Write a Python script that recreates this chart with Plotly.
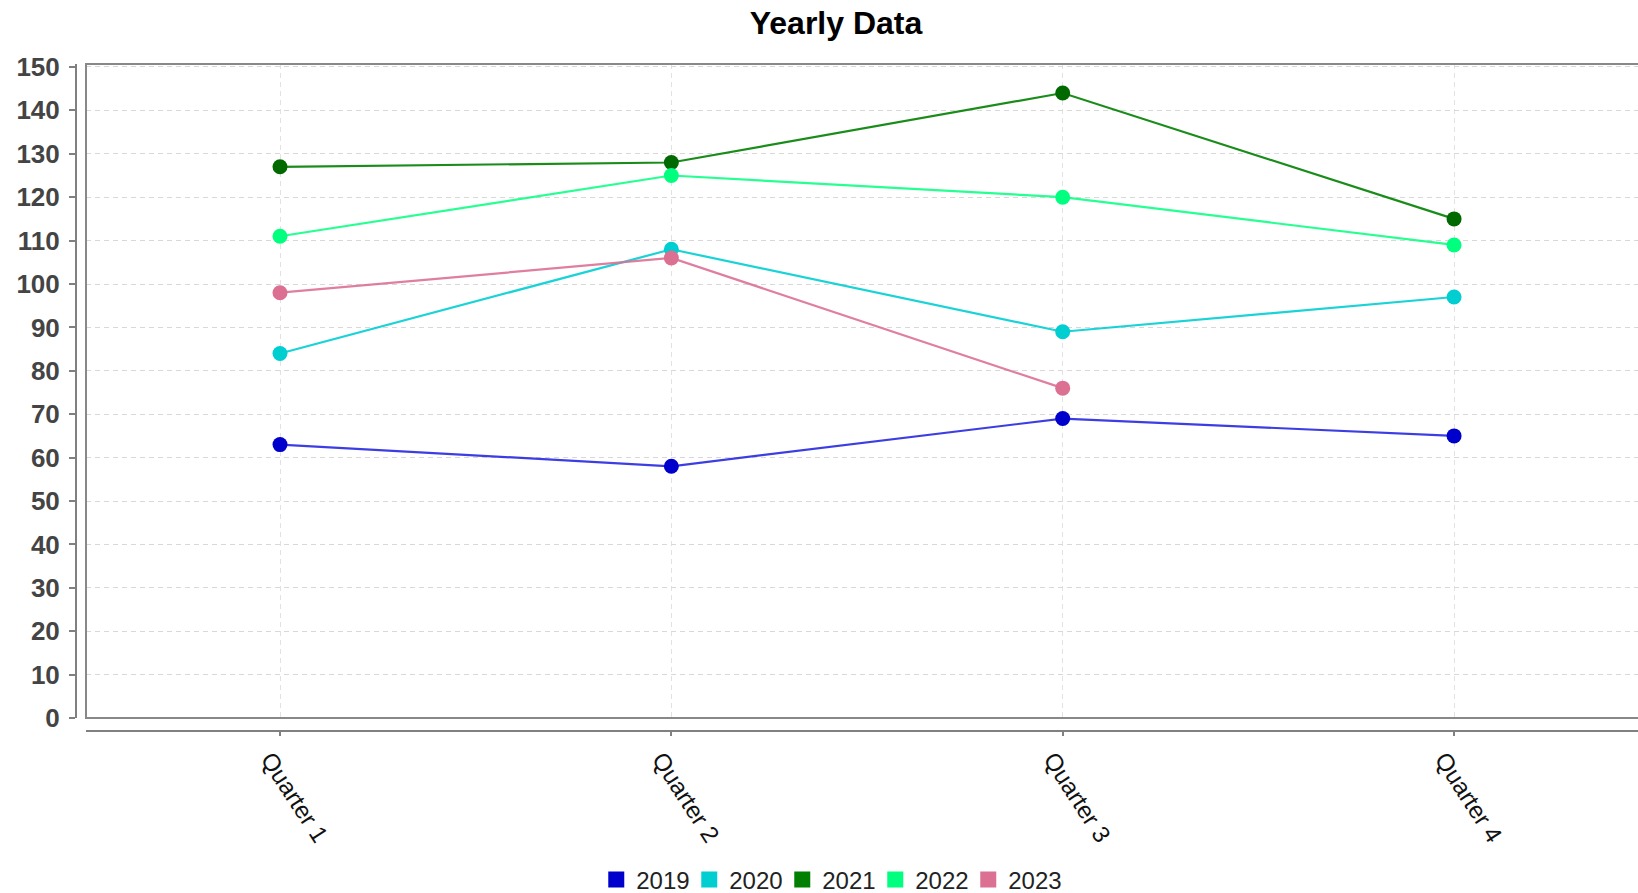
import plotly.graph_objects as go

# ---- data ----
categories = ["Quarter 1", "Quarter 2", "Quarter 3", "Quarter 4"]
series_names = ["2019", "2020", "2021", "2022", "2023"]
values_2019 = [63, 58, 69, 65]
values_2020 = [84, 108, 89, 97]
values_2021 = [127, 128, 144, 115]
values_2022 = [111, 125, 120, 109]
values_2023 = [98, 106, 76, None]
y_ticks = list(range(0, 151, 10))

series_values = [values_2019, values_2020, values_2021, values_2022, values_2023]
marker_colors = ["#0000CC", "#00CED1", "#006A00", "#00FF7F", "#DB7093"]
line_colors = ["rgba(40,40,225,0.9)", "rgba(0,206,209,0.9)", "rgba(0,128,0,0.9)",
               "rgba(0,255,127,0.85)", "rgba(219,112,147,0.9)"]
legend_colors = ["#0000CC", "#00CED1", "#007F00", "#00FF7F", "#DB7093"]

W, H = 1638, 893
ml, mr, mt, mb = 60, 0, 64, 150
pw = W - ml - mr
ph = H - mt - mb
plot_left_px = 86
plot_bottom_px = 718
yaxis_px = 76
xaxis_px = 731
xdom0 = (plot_left_px - ml) / pw
ydom0 = ((H - mb) - plot_bottom_px) / ph
ypos = (yaxis_px - ml) / pw
xpos = ((H - mb) - xaxis_px) / ph
legend_y = ((H - mb) - 880) / ph

x_idx = list(range(len(categories)))

fig = go.Figure()
for name, vals, mc, lc in zip(series_names, series_values, marker_colors, line_colors):
    fig.add_trace(go.Scatter(
        x=x_idx, y=vals, name=name, mode="lines+markers",
        line=dict(color=lc, width=2.2),
        marker=dict(color=mc, size=15),
        showlegend=False, connectgaps=False,
    ))
for name, c in zip(series_names, legend_colors):
    fig.add_trace(go.Scatter(
        x=[None], y=[None], name=name, mode="markers",
        marker=dict(color=c, size=18, symbol="square"),
        showlegend=True,
    ))

fig.update_layout(
    width=W, height=H,
    margin=dict(l=ml, r=mr, t=mt, b=mb, autoexpand=False),
    paper_bgcolor="white", plot_bgcolor="white",
    font=dict(family="Liberation Sans, Arial, sans-serif", color="#222222"),
    title=dict(text="Yearly Data", x=836 / W, xanchor="center",
               y=1 - 23 / H, yanchor="middle",
               font=dict(size=32, color="black", weight="bold")),
    xaxis=dict(
        domain=[xdom0, 1], anchor="free", position=xpos, automargin=False,
        range=[-0.4957, 3.470],
        tickmode="array", tickvals=x_idx, ticktext=categories,
        tickangle=57, tickfont=dict(size=24, color="#111111"),
        ticklabelshift=-10,
        ticks="outside", ticklen=4, tickcolor="#808080", tickwidth=2,
        showline=True, linecolor="#808080", linewidth=2,
        showgrid=True, gridcolor="#e2e2e2", griddash="5px,4px", gridwidth=1,
        zeroline=False, fixedrange=True,
    ),
    yaxis=dict(
        domain=[ydom0, 1], anchor="free", position=ypos, automargin=False,
        range=[0, 150.69],
        tickmode="array", tickvals=y_ticks,
        tickfont=dict(size=26, color="#444444", weight="bold"),
        ticks="outside", ticklen=6, tickcolor="#808080", tickwidth=2,
        showline=True, linecolor="#808080", linewidth=2,
        showgrid=True, gridcolor="#d8d8d8", griddash="5px,4px", gridwidth=1,
        zeroline=False, fixedrange=True, ticklabelstandoff=4,
    ),
    legend=dict(orientation="h", x=798 / W, xanchor="center",
                y=legend_y, yanchor="middle", entrywidth=48,
                font=dict(size=24, color="#222222"), itemwidth=30,
                bgcolor="rgba(0,0,0,0)"),
    shapes=[dict(type="rect", xref="paper", yref="paper",
                 x0=xdom0, x1=1.01, y0=ydom0, y1=1,
                 line=dict(color="#888888", width=2), layer="above")],
)

fig.write_html("out.html", config={"displayModeBar": False},
               post_script="document.body.style.margin='0px';document.body.style.overflow='hidden';")
